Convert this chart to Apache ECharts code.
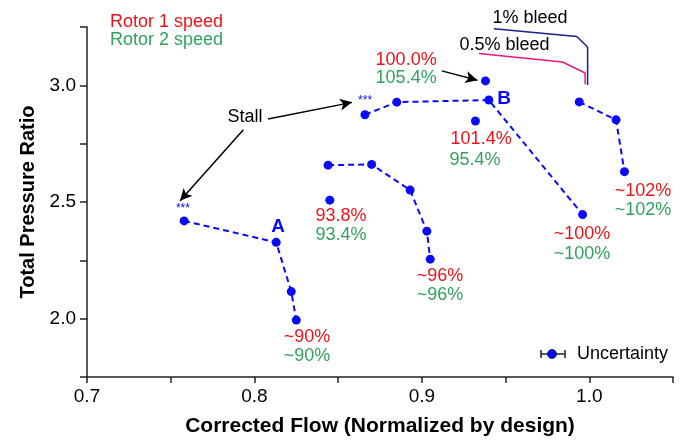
<!DOCTYPE html>
<html>
<head>
<meta charset="utf-8">
<script src="https://cdn.jsdelivr.net/npm/echarts@6/dist/echarts.min.js"></script>
<style>
html,body{margin:0;padding:0;background:#fff;}
#chart{width:687px;height:442px;}
</style>
</head>
<body>
<div id="chart"></div>
<script>
// ---- data ----
var xTickLabels = ['0.7', '0.8', '0.9', '1.0'];
var yTickLabels = ['2.0', '2.5', '3.0'];

var line1X = [0.758, 0.813, 0.822, 0.825];
var line1Y = [2.419, 2.327, 2.116, 1.994];
var line2X = [0.844, 0.870, 0.893, 0.903, 0.905];
var line2Y = [2.658, 2.661, 2.551, 2.375, 2.255];
var line3X = [0.866, 0.885, 0.940, 0.996];
var line3Y = [2.874, 2.928, 2.937, 2.446];
var line4X = [0.994, 1.016, 1.021];
var line4Y = [2.929, 2.852, 2.630];
var singleX = [0.845, 0.938, 0.932];
var singleY = [2.508, 3.019, 2.847];

var bleed1X = [0.943, 0.9925, 0.999, 0.999];
var bleed1Y = [3.242, 3.209, 3.164, 3.001];
var bleed05X = [0.934, 0.984, 0.9975, 0.9975];
var bleed05Y = [3.136, 3.100, 3.053, 3.005];

// annotation texts and their anchor (data coordinates)
var rotor1Texts = ['100.0%', '101.4%', '~102%', '~100%', '~96%', '93.8%', '~90%'];
var rotor1X = [0.8906, 0.9354, 1.0321, 0.9957, 0.9109, 0.8517, 0.8314];
var rotor1Y = [3.107, 2.771, 2.547, 2.362, 2.181, 2.442, 1.922];
var rotor2Texts = ['105.4%', '95.4%', '~102%', '~100%', '~96%', '93.4%', '~90%'];
var rotor2X = [0.8906, 0.9318, 1.0321, 0.9957, 0.9109, 0.8517, 0.8314];
var rotor2Y = [3.031, 2.680, 2.466, 2.279, 2.103, 2.357, 1.841];
var pointTexts = ['A', 'B'];
var pointTextX = [0.8141, 0.9491];
var pointTextY = [2.392, 2.942];
var starX = [0.7573, 0.8661];
var starY = [2.473, 2.935];
var blackTexts = ['Stall', '1% bleed', '0.5% bleed'];
var blackX = [0.7944, 0.9646, 0.9494];
var blackY = [2.866, 3.288, 3.173];
// arrows: from (x, y) to (x, y)
var arrowFromX = [0.8081, 0.7934, 0.9119];
var arrowFromY = [2.856, 2.810, 3.062];
var arrowToX = [0.8583, 0.7556, 0.9332];
var arrowToY = [2.927, 2.505, 3.022];

// ---- helpers ----
function zip(xs, ys) { return xs.map(function (x, i) { return [x, ys[i]]; }); }
var BLUE = '#0a0aff';
var RED = '#e8141c';
var GREEN = '#33a060';
var FONT = '"Liberation Sans", Arial, sans-serif';

function dashedCurve(xs, ys) {
  return {
    type: 'line', data: zip(xs, ys), symbol: 'circle', symbolSize: 9,
    itemStyle: { color: BLUE, opacity: 1 },
    lineStyle: { color: BLUE, width: 2, type: [6, 4] },
    silent: true, z: 3
  };
}
function textSeries(texts, xs, ys, style) {
  return {
    type: 'scatter', symbolSize: 0, clip: false, silent: true, z: 5,
    itemStyle: { opacity: 1 },
    data: texts.map(function (t, i) { return { value: [xs[i], ys[i]], name: t }; }),
    label: Object.assign({
      show: true, position: 'inside', formatter: function (p) { return p.name; },
      fontFamily: FONT, fontSize: 18, opacity: 1, textBorderWidth: 0
    }, style)
  };
}

var chart = echarts.init(document.getElementById('chart'), null, { renderer: 'canvas' });

var series = [
  dashedCurve(line1X, line1Y),
  dashedCurve(line2X, line2Y),
  dashedCurve(line3X, line3Y),
  dashedCurve(line4X, line4Y),
  {
    type: 'scatter', data: zip(singleX, singleY), symbol: 'circle', symbolSize: 9,
    itemStyle: { color: BLUE, opacity: 1 }, silent: true, z: 3
  },
  {
    type: 'line', data: zip(bleed1X, bleed1Y), symbol: 'none', clip: false,
    lineStyle: { color: '#1c1c8c', width: 1.5 }, silent: true
  },
  {
    type: 'line', data: zip(bleed05X, bleed05Y), symbol: 'none', clip: false,
    lineStyle: { color: '#f0187c', width: 1.5 }, silent: true
  },
  textSeries(rotor1Texts, rotor1X, rotor1Y, { color: RED }),
  textSeries(rotor2Texts, rotor2X, rotor2Y, { color: GREEN }),
  textSeries(pointTexts, pointTextX, pointTextY, { color: BLUE, fontWeight: 'bold', fontSize: 19 }),
  textSeries(['***', '***'], starX, starY, { color: BLUE, fontSize: 12 }),
  textSeries(blackTexts, blackX, blackY, { color: '#000' }),
  {
    type: 'scatter', data: [], silent: true,
    markLine: {
      silent: true, symbol: ['none', 'arrow'], symbolSize: [9, 12],
      lineStyle: { color: '#000', width: 1.5, type: 'solid' },
      label: { show: false }, animation: false,
      data: arrowFromX.map(function (x, i) {
        return [{ coord: [x, arrowFromY[i]] }, { coord: [arrowToX[i], arrowToY[i]] }];
      })
    }
  }
];

var option = {
  animation: false,
  backgroundColor: '#fff',
  textStyle: { fontFamily: FONT },
  grid: { left: 87, right: 14, top: 27, bottom: 62, containLabel: false },
  xAxis: {
    type: 'value', min: 0.7, max: 1.05, interval: 0.05,
    name: 'Corrected Flow (Normalized by design)', nameLocation: 'middle', nameGap: 39,
    nameTextStyle: { fontFamily: FONT, fontSize: 21, fontWeight: 'bold', color: '#000' },
    axisLine: { onZero: false, lineStyle: { color: '#222', width: 1.5 } },
    axisTick: { show: true, length: 6, lineStyle: { color: '#222', width: 1.5 } },
    axisLabel: {
      margin: 10, fontSize: 19, color: '#000', fontFamily: FONT, showMaxLabel: true, showMinLabel: true,
      formatter: function (v) { var s = v.toFixed(1); return (Math.abs(v * 10 - Math.round(v * 10)) < 1e-6 && xTickLabels.indexOf(s) >= 0) ? s : ''; }
    },
    splitLine: { show: false }
  },
  yAxis: {
    type: 'value', min: 1.75, max: 3.25, interval: 0.25,
    name: 'Total Pressure Ratio', nameLocation: 'middle', nameGap: 43,
    nameTextStyle: { fontFamily: FONT, fontSize: 20, fontWeight: 'bold', color: '#000' },
    axisLine: { show: true, onZero: false, lineStyle: { color: '#222', width: 1.5 } },
    axisTick: { show: true, length: 7, lineStyle: { color: '#222', width: 1.5 } },
    axisLabel: {
      margin: 11, fontSize: 19, color: '#000', fontFamily: FONT,
      formatter: function (v) { var s = v.toFixed(1); return (Math.abs(v * 2 - Math.round(v * 2)) < 1e-6 && yTickLabels.indexOf(s) >= 0) ? s : ''; }
    },
    splitLine: { show: false }
  },
  graphic: [
    { type: 'text', left: 110, top: 13, silent: true,
      style: { text: 'Rotor 1 speed', fill: RED, font: '18px ' + FONT } },
    { type: 'text', left: 110, top: 31, silent: true,
      style: { text: 'Rotor 2 speed', fill: GREEN, font: '18px ' + FONT } },
    { type: 'line', silent: true, shape: { x1: 541, y1: 354, x2: 565, y2: 354 }, style: { stroke: '#222', lineWidth: 1.5 } },
    { type: 'line', silent: true, shape: { x1: 541, y1: 350, x2: 541, y2: 358 }, style: { stroke: '#222', lineWidth: 1.5 } },
    { type: 'line', silent: true, shape: { x1: 565, y1: 350, x2: 565, y2: 358 }, style: { stroke: '#222', lineWidth: 1.5 } },
    { type: 'circle', silent: true, shape: { cx: 552, cy: 354, r: 4.5 }, style: { fill: BLUE, stroke: '#111', lineWidth: 0.8 } },
    { type: 'text', left: 577, top: 345, silent: true,
      style: { text: 'Uncertainty', fill: '#000', font: '18px ' + FONT } }
  ],
  series: series
};
chart.setOption(option);
</script>
</body>
</html>
